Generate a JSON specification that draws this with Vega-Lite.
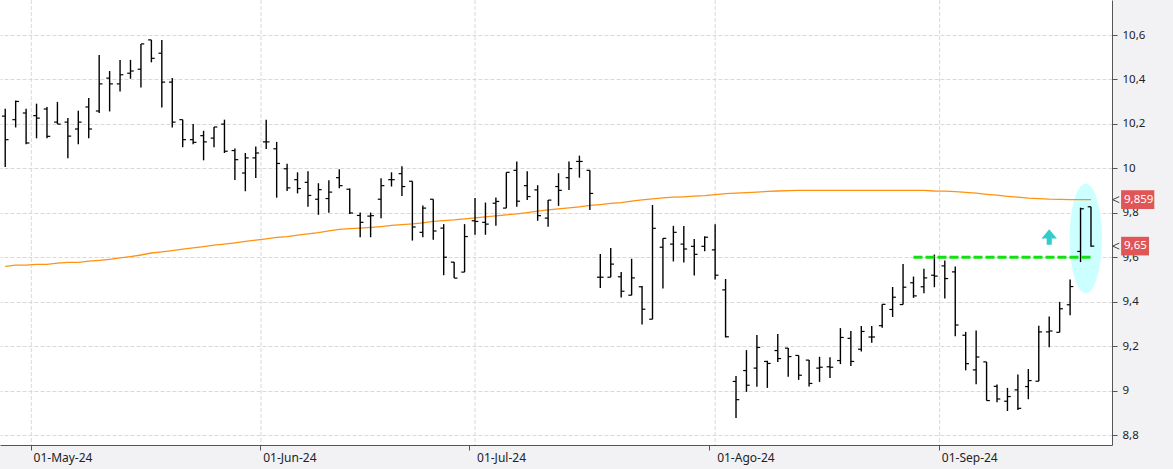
{
  "$schema": "https://vega.github.io/schema/vega-lite/v6.json",
  "width": 1112,
  "height": 445,
  "autosize": "none",
  "padding": {"left": 0, "top": 0, "right": 61, "bottom": 24},
  "background": "#f2f2f4",
  "config": {
    "view": {"stroke": null, "fill": "white"},
    "axis": {"labelFont": "Noto Sans", "labelColor": "#222", "domainColor": "#555", "tickColor": "#555"}
  },
  "datasets": {
    "ohlc": [
      {"date":"2024-04-26","open":10.235,"high":10.268,"low":10.006,"close":10.129,"ma":9.559},
      {"date":"2024-04-29","open":10.219,"high":10.305,"low":10.184,"close":10.301,"ma":9.564},
      {"date":"2024-04-30","open":10.249,"high":10.268,"low":10.108,"close":10.114,"ma":9.564},
      {"date":"2024-05-02","open":10.237,"high":10.291,"low":10.135,"close":10.226,"ma":9.568},
      {"date":"2024-05-03","open":10.267,"high":10.276,"low":10.135,"close":10.144,"ma":9.568},
      {"date":"2024-05-06","open":10.208,"high":10.299,"low":10.199,"close":10.199,"ma":9.573},
      {"date":"2024-05-07","open":10.208,"high":10.226,"low":10.045,"close":10.145,"ma":9.577},
      {"date":"2024-05-08","open":10.177,"high":10.259,"low":10.108,"close":10.208,"ma":9.577},
      {"date":"2024-05-09","open":10.276,"high":10.317,"low":10.135,"close":10.177,"ma":9.582},
      {"date":"2024-05-10","open":10.258,"high":10.510,"low":10.249,"close":10.380,"ma":9.586},
      {"date":"2024-05-13","open":10.406,"high":10.438,"low":10.256,"close":10.380,"ma":9.590},
      {"date":"2024-05-14","open":10.380,"high":10.488,"low":10.346,"close":10.421,"ma":9.597},
      {"date":"2024-05-15","open":10.428,"high":10.488,"low":10.403,"close":10.438,"ma":9.603},
      {"date":"2024-05-16","open":10.446,"high":10.560,"low":10.364,"close":10.560,"ma":9.610},
      {"date":"2024-05-17","open":10.578,"high":10.578,"low":10.477,"close":10.495,"ma":9.619},
      {"date":"2024-05-20","open":10.518,"high":10.578,"low":10.274,"close":10.388,"ma":9.624},
      {"date":"2024-05-21","open":10.388,"high":10.406,"low":10.184,"close":10.208,"ma":9.630},
      {"date":"2024-05-22","open":10.219,"high":10.219,"low":10.095,"close":10.129,"ma":9.636},
      {"date":"2024-05-23","open":10.129,"high":10.199,"low":10.108,"close":10.117,"ma":9.642},
      {"date":"2024-05-24","open":10.147,"high":10.169,"low":10.036,"close":10.119,"ma":9.648},
      {"date":"2024-05-27","open":10.136,"high":10.186,"low":10.095,"close":10.186,"ma":9.654},
      {"date":"2024-05-28","open":10.199,"high":10.219,"low":10.069,"close":10.077,"ma":9.659},
      {"date":"2024-05-29","open":10.080,"high":10.089,"low":9.947,"close":10.039,"ma":9.665},
      {"date":"2024-05-30","open":9.979,"high":10.069,"low":9.897,"close":10.047,"ma":9.671},
      {"date":"2024-05-31","open":10.047,"high":10.098,"low":9.956,"close":10.069,"ma":9.677},
      {"date":"2024-06-03","open":10.119,"high":10.219,"low":10.087,"close":10.119,"ma":9.683},
      {"date":"2024-06-04","open":10.088,"high":10.119,"low":9.868,"close":10.022,"ma":9.689},
      {"date":"2024-06-05","open":9.998,"high":10.021,"low":9.898,"close":9.912,"ma":9.693},
      {"date":"2024-06-06","open":9.949,"high":9.982,"low":9.887,"close":9.909,"ma":9.699},
      {"date":"2024-06-07","open":9.937,"high":9.987,"low":9.827,"close":9.878,"ma":9.705},
      {"date":"2024-06-10","open":9.861,"high":9.933,"low":9.791,"close":9.904,"ma":9.711},
      {"date":"2024-06-11","open":9.864,"high":9.946,"low":9.800,"close":9.893,"ma":9.719},
      {"date":"2024-06-12","open":9.958,"high":9.996,"low":9.910,"close":9.922,"ma":9.725},
      {"date":"2024-06-13","open":9.906,"high":9.909,"low":9.794,"close":9.799,"ma":9.729},
      {"date":"2024-06-14","open":9.788,"high":9.801,"low":9.690,"close":9.757,"ma":9.731},
      {"date":"2024-06-17","open":9.785,"high":9.801,"low":9.690,"close":9.787,"ma":9.734},
      {"date":"2024-06-18","open":9.861,"high":9.955,"low":9.775,"close":9.922,"ma":9.738},
      {"date":"2024-06-19","open":9.949,"high":9.982,"low":9.918,"close":9.949,"ma":9.743},
      {"date":"2024-06-20","open":9.976,"high":10.009,"low":9.876,"close":9.918,"ma":9.747},
      {"date":"2024-06-21","open":9.942,"high":9.942,"low":9.675,"close":9.736,"ma":9.750},
      {"date":"2024-06-24","open":9.712,"high":9.833,"low":9.690,"close":9.821,"ma":9.755},
      {"date":"2024-06-25","open":9.861,"high":9.861,"low":9.679,"close":9.718,"ma":9.761},
      {"date":"2024-06-26","open":9.731,"high":9.749,"low":9.519,"close":9.600,"ma":9.765},
      {"date":"2024-06-27","open":9.578,"high":9.578,"low":9.506,"close":9.506,"ma":9.768},
      {"date":"2024-06-28","open":9.533,"high":9.749,"low":9.533,"close":9.693,"ma":9.773},
      {"date":"2024-07-01","open":9.764,"high":9.866,"low":9.701,"close":9.761,"ma":9.777},
      {"date":"2024-07-02","open":9.757,"high":9.846,"low":9.701,"close":9.749,"ma":9.782},
      {"date":"2024-07-03","open":9.843,"high":9.869,"low":9.742,"close":9.851,"ma":9.786},
      {"date":"2024-07-04","open":9.821,"high":9.982,"low":9.821,"close":9.982,"ma":9.791},
      {"date":"2024-07-05","open":9.991,"high":10.031,"low":9.827,"close":9.852,"ma":9.795},
      {"date":"2024-07-08","open":9.922,"high":9.987,"low":9.858,"close":9.873,"ma":9.801},
      {"date":"2024-07-09","open":9.903,"high":9.924,"low":9.764,"close":9.787,"ma":9.807},
      {"date":"2024-07-10","open":9.776,"high":9.857,"low":9.737,"close":9.857,"ma":9.813},
      {"date":"2024-07-11","open":9.918,"high":9.978,"low":9.831,"close":9.901,"ma":9.818},
      {"date":"2024-07-12","open":9.958,"high":10.031,"low":9.903,"close":9.999,"ma":9.822},
      {"date":"2024-07-15","open":10.031,"high":10.057,"low":9.958,"close":10.031,"ma":9.827},
      {"date":"2024-07-16","open":9.991,"high":9.991,"low":9.813,"close":9.887,"ma":9.833},
      {"date":"2024-07-17","open":9.510,"high":9.615,"low":9.462,"close":9.510,"ma":9.837},
      {"date":"2024-07-18","open":9.510,"high":9.642,"low":9.510,"close":9.569,"ma":9.842},
      {"date":"2024-07-19","open":9.512,"high":9.533,"low":9.419,"close":9.447,"ma":9.846},
      {"date":"2024-07-22","open":9.429,"high":9.593,"low":9.429,"close":9.507,"ma":9.852},
      {"date":"2024-07-23","open":9.467,"high":9.470,"low":9.297,"close":9.366,"ma":9.858},
      {"date":"2024-07-24","open":9.321,"high":9.835,"low":9.321,"close":9.730,"ma":9.863},
      {"date":"2024-07-25","open":9.645,"high":9.685,"low":9.459,"close":9.685,"ma":9.867},
      {"date":"2024-07-26","open":9.659,"high":9.741,"low":9.581,"close":9.712,"ma":9.870},
      {"date":"2024-07-29","open":9.659,"high":9.741,"low":9.576,"close":9.637,"ma":9.872},
      {"date":"2024-07-30","open":9.649,"high":9.682,"low":9.518,"close":9.613,"ma":9.875},
      {"date":"2024-07-31","open":9.649,"high":9.694,"low":9.627,"close":9.690,"ma":9.877},
      {"date":"2024-08-01","open":9.633,"high":9.748,"low":9.500,"close":9.519,"ma":9.882},
      {"date":"2024-08-02","open":9.453,"high":9.502,"low":9.239,"close":9.242,"ma":9.886},
      {"date":"2024-08-05","open":9.041,"high":9.066,"low":8.877,"close":8.959,"ma":9.888},
      {"date":"2024-08-06","open":9.090,"high":9.182,"low":8.994,"close":9.024,"ma":9.891},
      {"date":"2024-08-07","open":9.101,"high":9.250,"low":9.017,"close":9.194,"ma":9.893},
      {"date":"2024-08-08","open":9.131,"high":9.134,"low":9.012,"close":9.122,"ma":9.896},
      {"date":"2024-08-09","open":9.180,"high":9.254,"low":9.129,"close":9.144,"ma":9.898},
      {"date":"2024-08-12","open":9.191,"high":9.191,"low":9.062,"close":9.153,"ma":9.900},
      {"date":"2024-08-13","open":9.158,"high":9.158,"low":9.048,"close":9.069,"ma":9.901},
      {"date":"2024-08-14","open":9.137,"high":9.137,"low":9.018,"close":9.032,"ma":9.901},
      {"date":"2024-08-15","open":9.101,"high":9.152,"low":9.039,"close":9.105,"ma":9.901},
      {"date":"2024-08-16","open":9.107,"high":9.150,"low":9.057,"close":9.105,"ma":9.901},
      {"date":"2024-08-19","open":9.135,"high":9.281,"low":9.119,"close":9.239,"ma":9.901},
      {"date":"2024-08-20","open":9.235,"high":9.268,"low":9.111,"close":9.131,"ma":9.901},
      {"date":"2024-08-21","open":9.186,"high":9.290,"low":9.176,"close":9.266,"ma":9.901},
      {"date":"2024-08-22","open":9.241,"high":9.290,"low":9.215,"close":9.241,"ma":9.901},
      {"date":"2024-08-23","open":9.292,"high":9.388,"low":9.283,"close":9.388,"ma":9.901},
      {"date":"2024-08-26","open":9.365,"high":9.466,"low":9.331,"close":9.420,"ma":9.901},
      {"date":"2024-08-27","open":9.387,"high":9.569,"low":9.387,"close":9.465,"ma":9.901},
      {"date":"2024-08-28","open":9.485,"high":9.513,"low":9.417,"close":9.426,"ma":9.901},
      {"date":"2024-08-29","open":9.467,"high":9.548,"low":9.438,"close":9.507,"ma":9.901},
      {"date":"2024-08-30","open":9.519,"high":9.612,"low":9.465,"close":9.515,"ma":9.898},
      {"date":"2024-09-02","open":9.561,"high":9.585,"low":9.414,"close":9.504,"ma":9.897},
      {"date":"2024-09-03","open":9.534,"high":9.558,"low":9.244,"close":9.295,"ma":9.895},
      {"date":"2024-09-04","open":9.249,"high":9.264,"low":9.091,"close":9.121,"ma":9.892},
      {"date":"2024-09-05","open":9.093,"high":9.270,"low":9.028,"close":9.151,"ma":9.888},
      {"date":"2024-09-06","open":9.129,"high":9.129,"low":8.955,"close":8.955,"ma":9.883},
      {"date":"2024-09-09","open":9.019,"high":9.027,"low":8.947,"close":8.962,"ma":9.879},
      {"date":"2024-09-10","open":8.952,"high":9.012,"low":8.908,"close":8.973,"ma":9.874},
      {"date":"2024-09-11","open":9.003,"high":9.072,"low":8.913,"close":8.920,"ma":9.870},
      {"date":"2024-09-12","open":9.018,"high":9.097,"low":8.961,"close":9.045,"ma":9.866},
      {"date":"2024-09-13","open":9.042,"high":9.292,"low":9.042,"close":9.264,"ma":9.864},
      {"date":"2024-09-16","open":9.264,"high":9.333,"low":9.195,"close":9.268,"ma":9.861},
      {"date":"2024-09-17","open":9.262,"high":9.399,"low":9.262,"close":9.368,"ma":9.860},
      {"date":"2024-09-18","open":9.386,"high":9.500,"low":9.339,"close":9.468,"ma":9.859},
      {"date":"2024-09-19","open":9.626,"high":9.823,"low":9.578,"close":9.818,"ma":9.859},
      {"date":"2024-09-20","open":9.827,"high":9.827,"low":9.647,"close":9.650,"ma":9.859}
    ],
    "months": [
      {"date":"2024-05-02","pos":"start"},
      {"date":"2024-06-03","pos":"start"},
      {"date":"2024-07-01","pos":"mid"},
      {"date":"2024-08-01","pos":"mid"},
      {"date":"2024-09-02","pos":"start"}
    ],
    "level": [
      {"date":"2024-08-28","value":9.6},
      {"date":"2024-09-20","value":9.6}
    ],
    "tags": [
      {"label":"9,859","value":9.859},
      {"label":"9,65","value":9.65}
    ],
    "highlight": [
      {"date":"2024-09-19","value":9.684}
    ],
    "signal": [
      {"date":"2024-09-16","value":9.691}
    ]
  },
  "encoding": {
    "x": {
      "field": "date",
      "type": "ordinal",
      "title": null,
      "scale": {"type": "band", "paddingInner": 0, "paddingOuter": 0.757, "align": 0},
      "axis": {
        "values": ["2024-05-02","2024-06-03","2024-07-01","2024-08-01","2024-09-02"],
        "bandPosition": 0,
        "grid": false,
        "tickSize": 5,
        "labelAlign": "left",
        "labelBaseline": "top",
        "labelPadding": 2,
        "labelFontSize": 12,
        "labelAngle": 0,
        "labelOffset": {"condition": {"test": "datum.value == '2024-07-01' || datum.value == '2024-08-01'", "value": 2}, "value": -3},
        "labelExpr": "datum.value == '2024-05-02' ? '01-May-24' : datum.value == '2024-06-03' ? '01-Jun-24' : datum.value == '2024-07-01' ? '01-Jul-24' : datum.value == '2024-08-01' ? '01-Ago-24' : '01-Sep-24'"
      }
    }
  },
  "layer": [
    {
      "data": {"name": "months"},
      "transform": [{"filter": "datum.pos == 'start'"}],
      "mark": {"type": "rule", "color": "#d9d9d9", "strokeDash": [4, 2], "strokeWidth": 1},
      "encoding": {"x": {"field": "date", "type": "ordinal", "bandPosition": 0}}
    },
    {
      "data": {"name": "months"},
      "transform": [{"filter": "datum.pos == 'mid'"}],
      "mark": {"type": "rule", "color": "#d9d9d9", "strokeDash": [4, 2], "strokeWidth": 1},
      "encoding": {"x": {"field": "date", "type": "ordinal", "bandPosition": 0.5}}
    },
    {
      "data": {"name": "highlight"},
      "mark": {"type": "point", "filled": true, "opacity": 1, "color": "#ccffff",
               "shape": "M-0.295,0A0.295,1 0 1,0 0.295,0A0.295,1 0 1,0 -0.295,0Z", "size": 11968},
      "encoding": {
        "x": {"field": "date", "type": "ordinal", "bandPosition": 1},
        "y": {"field": "value", "type": "quantitative", "title": null,
              "scale": {"domain": [8.755, 10.7575], "zero": false, "nice": false},
              "axis": {
                "orient": "right",
                "title": null,
                "values": [8.8,8.85,8.9,8.95,9.0,9.05,9.1,9.15,9.2,9.25,9.3,9.35,9.4,9.45,9.5,9.55,9.6,9.65,9.7,9.75,9.8,9.85,9.9,9.95,10.0,10.05,10.1,10.15,10.2,10.25,10.3,10.35,10.4,10.45,10.5,10.55,10.6,10.65,10.7,10.75],
                "grid": true,
                "gridColor": "#d9d9d9",
                "gridDash": [4, 2],
                "gridOpacity": {"condition": {"test": "abs(datum.value*5 - round(datum.value*5)) < 0.001", "value": 1}, "value": 0},
                "tickSize": 5,
                "labelPadding": 5,
                "labelFontSize": 11.5,
                "labelBaseline": "middle",
                "labelExpr": "abs(datum.value*5 - round(datum.value*5)) < 0.001 ? replace(format(datum.value, '.1~f'), '.', ',') : ''"
              }}
      }
    },
    {
      "data": {"name": "ohlc"},
      "mark": {"type": "line", "color": "#ff9210", "strokeWidth": 1.3},
      "encoding": {
        "x": {"field": "date", "type": "ordinal", "bandPosition": 0.5},
        "y": {"field": "ma", "type": "quantitative", "title": null}
      }
    },
    {
      "data": {"name": "ohlc"},
      "mark": {"type": "rule", "color": "#000000", "strokeWidth": 1.4},
      "encoding": {
        "x": {"field": "date", "type": "ordinal", "bandPosition": 0.5},
        "y": {"field": "low", "type": "quantitative", "title": null},
        "y2": {"field": "high"}
      }
    },
    {
      "data": {"name": "ohlc"},
      "mark": {"type": "point", "filled": false, "opacity": 1, "color": "#000000", "strokeWidth": 1.2,
               "shape": "M-3.3,0H0", "size": 4},
      "encoding": {
        "x": {"field": "date", "type": "ordinal", "bandPosition": 0.5},
        "y": {"field": "open", "type": "quantitative", "title": null}
      }
    },
    {
      "data": {"name": "ohlc"},
      "mark": {"type": "point", "filled": false, "opacity": 1, "color": "#000000", "strokeWidth": 1.2,
               "shape": "M0,0H3.3", "size": 4},
      "encoding": {
        "x": {"field": "date", "type": "ordinal", "bandPosition": 0.5},
        "y": {"field": "close", "type": "quantitative", "title": null}
      }
    },
    {
      "data": {"name": "level"},
      "mark": {"type": "line", "color": "#10e010", "strokeWidth": 3, "strokeDash": [9, 3]},
      "encoding": {
        "x": {"field": "date", "type": "ordinal", "bandPosition": 0.5},
        "y": {"field": "value", "type": "quantitative", "title": null}
      }
    },
    {
      "data": {"name": "signal"},
      "mark": {"type": "point", "filled": true, "opacity": 1, "color": "#33cccc",
               "shape": "M0,-1L1,0.2L0.33,0.2L0.33,1L-0.33,1L-0.33,0.2L-1,0.2Z", "size": 237},
      "encoding": {
        "x": {"field": "date", "type": "ordinal", "bandPosition": 0.5},
        "y": {"field": "value", "type": "quantitative", "title": null}
      }
    },
    {
      "data": {"name": "tags"},
      "mark": {"type": "point", "filled": true, "opacity": 1, "color": "#e05555"},
      "encoding": {
        "x": {"datum": "2024-09-20", "type": "ordinal", "bandPosition": 0.5},
        "y": {"field": "value", "type": "quantitative", "title": null},
        "shape": {"field": "label", "type": "nominal", "legend": null,
                  "scale": {"domain": ["9,859", "9,65"], "range": ["M3.24,-1H6.81V1H3.24Z", "M3.24,-1H6.24V1H3.24Z"]}},
        "size": {"value": 346}
      }
    },
    {
      "data": {"name": "tags"},
      "mark": {"type": "point", "filled": false, "opacity": 1, "color": "#444444", "strokeWidth": 1,
               "shape": "M9.43,-1L7.23,0L9.43,1", "size": 36},
      "encoding": {
        "x": {"datum": "2024-09-20", "type": "ordinal", "bandPosition": 0.5},
        "y": {"field": "value", "type": "quantitative", "title": null}
      }
    },
    {
      "data": {"name": "tags"},
      "mark": {"type": "text", "color": "white", "font": "Noto Sans", "fontSize": 11.5, "align": "left", "baseline": "middle", "dx": 33},
      "encoding": {
        "x": {"datum": "2024-09-20", "type": "ordinal", "bandPosition": 0.5},
        "y": {"field": "value", "type": "quantitative", "title": null},
        "text": {"field": "label"}
      }
    }
  ]
}
